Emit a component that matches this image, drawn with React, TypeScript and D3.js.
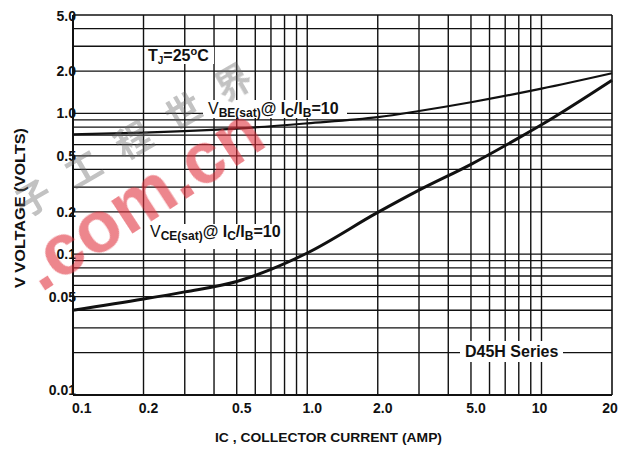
import React from "react";
import * as d3 from "d3";

const X_TICKS = [0.1, 0.2, 0.5, 1, 2, 5, 10, 20];
const X_TICK_LABELS = ["0.1", "0.2", "0.5", "1.0", "2.0", "5.0", "10", "20"];
const Y_TICKS = [5, 2, 1, 0.5, 0.2, 0.1, 0.05, 0.01];
const Y_TICK_LABELS = ["5.0", "2.0", "1.0", "0.5", "0.2", "0.1", "0.05", "0.01"];
const X_GRID = [0.2, 0.3, 0.4, 0.5, 0.6, 0.7, 0.8, 0.9, 1, 2, 3, 4, 5, 6, 7, 8, 9, 10];
const Y_GRID = [4, 3, 2, 1, 0.9, 0.8, 0.7, 0.6, 0.5, 0.4, 0.3, 0.2, 0.1, 0.09, 0.08, 0.07, 0.06, 0.05, 0.04, 0.03, 0.02];

const VBE_I = [0.1, 0.2, 0.5, 1, 2, 3, 5, 10, 20];
const VBE_V = [0.71, 0.73, 0.78, 0.85, 0.94, 1.04, 1.2, 1.5, 1.93];
const VCE_I = [0.1, 0.2, 0.3, 0.5, 0.7, 1, 2, 3, 5, 8, 10, 20];
const VCE_V = [0.04, 0.048, 0.054, 0.064, 0.078, 0.102, 0.198, 0.285, 0.435, 0.67, 0.83, 1.72];

const WATERMARK_CHARS = ["子", "工", "程", "世", "界"];

const W = 621;
const H = 450;
const L = 73, R = 612, T = 15, B = 395;
const FONT = "'Liberation Sans', Arial, Helvetica, sans-serif";

export default function App() {
  const x = d3.scaleLog().domain([0.1, 20]).range([L, R]);
  const y = d3.scaleLog().domain([0.01, 5]).range([B, T]);
  const line = d3
    .line<[number, number]>()
    .x((d) => x(d[0]))
    .y((d) => y(d[1]))
    .curve(d3.curveMonotoneX);
  const vbe = line(VBE_I.map((v, i) => [v, VBE_V[i]] as [number, number])) || "";
  const vce = line(VCE_I.map((v, i) => [v, VCE_V[i]] as [number, number])) || "";
  const ink = "#111";

  return (
    <svg
      width={W}
      height={H}
      style={{ position: "absolute", left: 0, top: 0, background: "#fff" }}
      fontFamily={FONT}
    >
      <rect x={0} y={0} width={W} height={H} fill="#fff" />
      {/* grid */}
      {X_GRID.map((v) => (
        <line key={"vx" + v} x1={x(v)} x2={x(v)} y1={T} y2={B} stroke={ink} strokeWidth={1.4} />
      ))}
      {Y_GRID.map((v) => (
        <line key={"hy" + v} x1={L} x2={R} y1={y(v)} y2={y(v)} stroke={ink} strokeWidth={1.3} />
      ))}
      {/* frame */}
      <line x1={L} x2={R} y1={T} y2={T} stroke={ink} strokeWidth={1.5} />
      <line x1={L} x2={R} y1={B} y2={B} stroke={ink} strokeWidth={2} />
      <line x1={L} x2={L} y1={T} y2={B} stroke={ink} strokeWidth={2} />
      <line x1={R} x2={R} y1={T} y2={B} stroke={ink} strokeWidth={1.6} />

      {/* label backgrounds */}
      <rect x={146} y={47} width={68} height={17} fill="#fff" />
      <rect x={203} y={100} width={144} height={18} fill="#fff" />
      <rect x={147} y={224} width={136} height={25} fill="#fff" />
      <rect x={460} y={341} width={103} height={21} fill="#fff" />

      {/* curves */}
      <path d={vbe} fill="none" stroke={ink} strokeWidth={2.2} />
      <path d={vce} fill="none" stroke={ink} strokeWidth={3} />

      {/* annotations */}
      <text x={148} y={61} fontSize={16} fontWeight="bold" fill={ink}>
        T<tspan fontSize={10} dy={3}>J</tspan>
        <tspan dy={-3}>=25</tspan>
        <tspan fontSize={11} dy={-6}>o</tspan>
        <tspan dy={6}>C</tspan>
      </text>
      <text x={208} y={114} fontSize={16} fill={ink}>
        V<tspan fontSize={12} fontWeight="bold" dy={3}>BE(sat)</tspan>
        <tspan fontWeight="bold" dy={-3}>@ I</tspan>
        <tspan fontSize={12} fontWeight="bold" dy={3}>C</tspan>
        <tspan fontWeight="bold" dy={-3}>/I</tspan>
        <tspan fontSize={12} fontWeight="bold" dy={3}>B</tspan>
        <tspan fontWeight="bold" dy={-3}>=10</tspan>
      </text>
      <text x={150} y={237} fontSize={16} fill={ink}>
        V<tspan fontSize={12} fontWeight="bold" dy={3}>CE(sat)</tspan>
        <tspan fontWeight="bold" dy={-3}>@ I</tspan>
        <tspan fontSize={12} fontWeight="bold" dy={3}>C</tspan>
        <tspan fontWeight="bold" dy={-3}>/I</tspan>
        <tspan fontSize={12} fontWeight="bold" dy={3}>B</tspan>
        <tspan fontWeight="bold" dy={-3}>=10</tspan>
      </text>
      <text x={465} y={357} fontSize={16} fontWeight="bold" fill={ink}>
        D45H Series
      </text>

      {/* x tick labels */}
      {X_TICKS.map((v, i) => {
        const lab = X_TICK_LABELS[i];
        const first = i === 0;
        return (
          <text
            key={"xt" + v}
            x={first ? x(v) - 1 : x(v) + (lab.length === 3 ? 5 : -2)}
            y={413}
            fontSize={14}
            fontWeight="bold"
            textAnchor={first ? "start" : "middle"}
            fill={ink}
          >
            {lab}
          </text>
        );
      })}
      {/* y tick labels */}
      {Y_TICKS.map((v, i) => (
        <text
          key={"yt" + v}
          x={76}
          y={Math.min(395, Math.max(21, y(v) + 5))}
          fontSize={14}
          fontWeight="bold"
          textAnchor="end"
          fill={ink}
        >
          {Y_TICK_LABELS[i]}
        </text>
      ))}

      {/* axis titles */}
      <text x={215} y={442} fontSize={13} fontWeight="bold" fill={ink} textLength={227} lengthAdjust="spacingAndGlyphs">
        IC , COLLECTOR CURRENT (AMP)
      </text>
      <text
        transform="translate(25,288) rotate(-90)"
        x={0}
        y={0}
        fontSize={14}
        fontWeight="bold"
        fill={ink}
        textLength={160}
        lengthAdjust="spacingAndGlyphs"
      >
        V VOLTAGE (VOLTS)
      </text>

      {/* watermark */}
      <g opacity={0.4}>
        {WATERMARK_CHARS.map((c, i) => {
          const k = WATERMARK_CHARS.length - 1 - i;
          const cx = 232 - k * 50;
          const cy = 80 + k * 29;
          return (
            <text
              key={"wm" + i}
              x={cx}
              y={cy}
              transform={`rotate(-30 ${cx} ${cy})`}
              fontSize={36}
              fontWeight="bold"
              fontFamily="'Noto Sans CJK SC', sans-serif"
              textAnchor="middle"
              dominantBaseline="central"
              fill="#666"
            >
              {c}
            </text>
          );
        })}
      </g>
      <text
        x={41}
        y={293}
        transform="rotate(-33 41 293)"
        fontSize={74}
        fontWeight="bold"
        fill="#e0303c"
        opacity={0.58}
        textLength={272}
        lengthAdjust="spacingAndGlyphs"
      >
        .com.cn
      </text>
    </svg>
  );
}
